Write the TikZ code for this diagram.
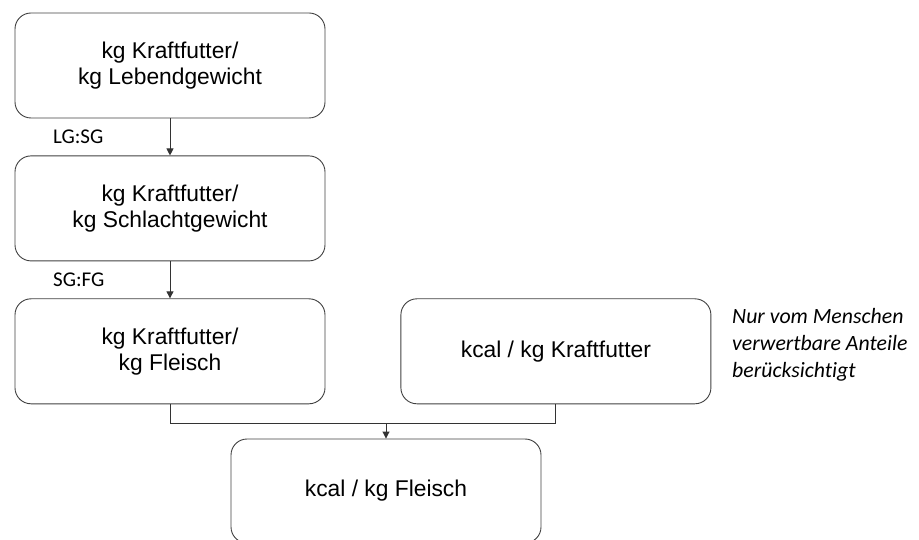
\documentclass[tikz,border=0pt]{standalone}
\usepackage{fontspec}
\setmainfont{Liberation Sans}
\newfontfamily\calibri[Ligatures=NoCommon]{Carlito}
\usetikzlibrary{positioning,arrows.meta}

\begin{document}
\begin{tikzpicture}[
  x=1pt, y=-1pt,
  box/.style={rectangle, rounded corners=16pt, draw=black!75, line width=0.9pt,
    minimum width=310pt, minimum height=105pt, align=center,
    font=\fontsize{22.8}{26}\selectfont},
  ratio/.style={font=\calibri\fontsize{21}{24}\selectfont, anchor=west, inner sep=0pt},
  note/.style={font=\calibri\itshape\fontsize{21.8}{27}\selectfont, anchor=west, align=left, inner sep=0pt},
  link/.style={draw=black!80, line width=0.9pt},
  tip/.style={-{Triangle[length=7pt,width=7pt]}}
]
  \useasboundingbox (0,0) rectangle (919,540);

  \node[box] (lg) at (170,65.5) {kg Kraftfutter/\\kg Lebendgewicht};
  \node[box, below=37pt of lg] (sg) {kg Kraftfutter/\\kg Schlachtgewicht};
  \node[box, below=37pt of sg] (fl) {kg Kraftfutter/\\kg Fleisch};
  \node[box, right=75pt of fl] (kk) {kcal / kg Kraftfutter};
  \node[box, minimum height=104pt] (res) at (386,491) {kcal / kg Fleisch};

  \node[ratio] (lgsg) at (53,137) {LG:SG};
  \node[ratio] (sgfg) at (53,280) {SG:FG};
  \node[note] (nt) at (732,345) {Nur vom Menschen\\verwertbare Anteile\\berücksichtigt};

  % arrows
  \draw[link, tip] (lg) -- (sg);
  \draw[link, tip] (sg) -- (fl);
  \draw[link] (fl.south) -- ++(0,19) coordinate (j1) -| (kk.south);
  \coordinate (jn) at (res.north |- j1);
  \draw[link, tip] (jn) -- (res.north);
\end{tikzpicture}
\end{document}
